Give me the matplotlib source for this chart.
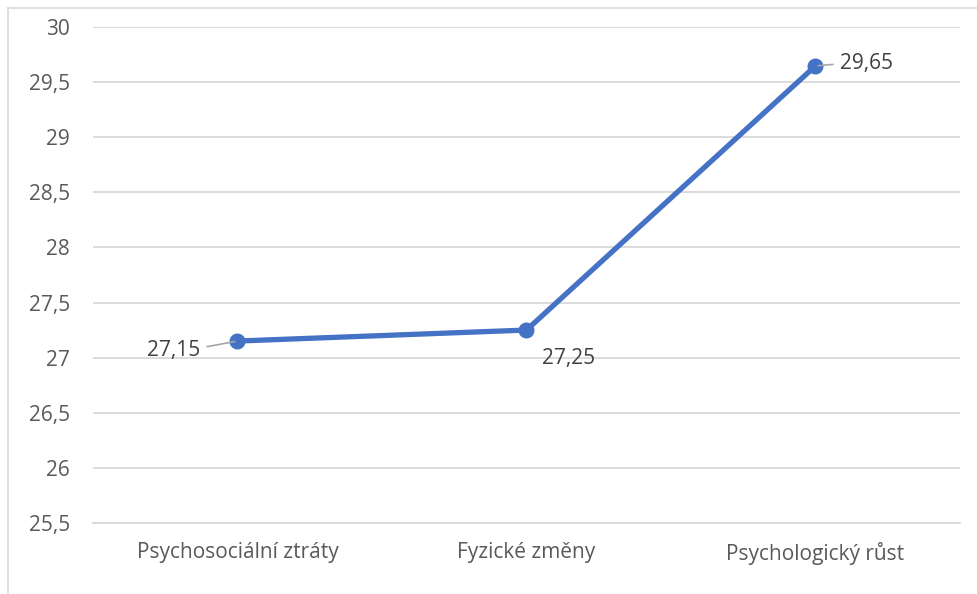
import matplotlib.pyplot as plt
from matplotlib.ticker import FuncFormatter, MultipleLocator

kategorie = ["Psychosociální ztráty", "Fyzické změny", "Psychologický růst"]
hodnoty = [27.15, 27.25, 29.65]
# posun popisku vůči bodu (v pixelech) a ukotvení vodicí čáry
posuny = [(-64, -9), (42, -28), (51, 2)]
kotvy = [(1.0, 0.6), None, (0.0, 0.5)]

barva_cary = "#4472C4"
barva_textu = "#595959"
barva_mrizky = "#D9D9D9"

plt.rcParams["font.family"] = ["Open Sans", "DejaVu Sans"]

fig = plt.figure(figsize=(9.78, 5.94), dpi=100)
ax = fig.add_axes([93 / 978, 1 - 522.7 / 594, (960 - 93) / 978, (522.7 - 27.3) / 594])

x = list(range(len(kategorie)))
ax.plot(x, hodnoty, color=barva_cary, linewidth=3.8, marker="o", markersize=10.5,
        solid_capstyle="round", zorder=3)

for xi, yi, off, kotva in zip(x, hodnoty, posuny, kotvy):
    text = f"{yi:.2f}".replace(".", ",")
    if kotva is None:
        ax.annotate(text, (xi, yi), xytext=off, textcoords="offset pixels",
                    ha="center", va="center", fontsize=15, color="#404040")
    else:
        ax.annotate(text, (xi, yi), xytext=off, textcoords="offset pixels",
                    ha="center", va="center", fontsize=15, color="#404040",
                    arrowprops=dict(arrowstyle="-", color="#A6A6A6", lw=1.2,
                                    relpos=kotva, shrinkA=3, shrinkB=2))

ax.set_xlim(-0.5, 2.5)
ax.set_ylim(25.5, 30)
ax.yaxis.set_major_locator(MultipleLocator(0.5))
ax.yaxis.set_major_formatter(FuncFormatter(lambda v, p: f"{v:g}".replace(".", ",")))
ax.set_xticks(x)
ax.set_xticklabels(kategorie)
ax.grid(axis="y", color=barva_mrizky, linewidth=1.3)
ax.set_axisbelow(True)
ax.tick_params(axis="both", length=0, labelsize=15, colors=barva_textu)
ax.tick_params(axis="y", pad=16.5)
ax.tick_params(axis="x", pad=14)
for s in ax.spines.values():
    s.set_visible(False)
ax.spines["bottom"].set_visible(True)
ax.spines["bottom"].set_color(barva_mrizky)
ax.spines["bottom"].set_linewidth(1.3)

# rámeček grafu
fig.add_artist(plt.Line2D([8 / 978, 8 / 978], [0, 1 - 8 / 594], transform=fig.transFigure,
                          color=barva_mrizky, linewidth=1.2))
fig.add_artist(plt.Line2D([8 / 978, 1], [1 - 8 / 594, 1 - 8 / 594], transform=fig.transFigure,
                          color=barva_mrizky, linewidth=1.2))

fig.savefig("out.png", dpi=100)
